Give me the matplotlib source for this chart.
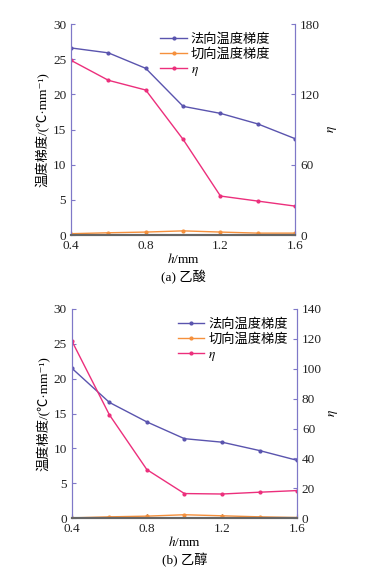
# -*- coding: utf-8 -*-
import matplotlib
matplotlib.use("Agg")
import matplotlib.pyplot as plt

plt.rcParams['font.family'] = ['Liberation Serif', 'Noto Sans CJK SC', 'DejaVu Sans']
plt.rcParams['mathtext.fontset'] = 'stix'
plt.rcParams['font.size'] = 9.5

h = [0.4, 0.6, 0.8, 1.0, 1.2, 1.4, 1.6]

# (a) acetic acid
normal_a = [26.6, 25.9, 23.7, 18.3, 17.3, 15.8, 13.7]
tangent_a = [0.2, 0.33, 0.43, 0.6, 0.43, 0.28, 0.28]
eta_a = [149, 132, 123.7, 81.6, 33.3, 29, 24.7]

# (b) ethanol
normal_b = [21.5, 16.6, 13.8, 11.4, 10.9, 9.7, 8.3]
tangent_b = [0.05, 0.2, 0.3, 0.5, 0.35, 0.2, 0.1]
eta_b = [118.6, 69.2, 32.5, 16.5, 16.2, 17.4, 18.5]

labels = ['法向温度梯度', '切向温度梯度', r'$\eta$']
c_normal = '#5a54ae'
c_tan = '#f5903c'
c_eta = '#ec2f7c'
spine_c = '#7f78c8'

fig = plt.figure(figsize=(3.76, 5.72), dpi=100)


def panel(rect, normal, tangent, eta, eta_max, eta_step, caption, leg_x):
    ax = fig.add_axes(rect)
    ax2 = ax.twinx()
    l1, = ax.plot(h, normal, color=c_normal, marker='o', ms=2, lw=1)
    l2, = ax.plot(h, tangent, color=c_tan, marker='o', ms=2, lw=1)
    l3, = ax2.plot(h, eta, color=c_eta, marker='o', ms=2, lw=1)
    ax.set_xlim(0.4, 1.6)
    ax.set_ylim(0, 30)
    ax2.set_ylim(0, eta_max)
    ax.set_xticks([0.4, 0.8, 1.2, 1.6])
    ax.set_xticks([0.6, 1.0, 1.4], minor=True)
    ax.set_yticks(range(0, 31, 5))
    ax2.set_yticks(range(0, eta_max + 1, eta_step))
    for a in (ax, ax2):
        a.spines['top'].set_visible(False)
        a.spines['left'].set_color(spine_c)
        a.spines['right'].set_color(spine_c)
        a.spines['bottom'].set_color('#666666')
        a.spines['bottom'].set_linewidth(1.5)
        a.tick_params(direction='in', length=3, colors='#222222', labelsize=9.5)
        a.tick_params(which='minor', direction='in', length=0)
    ax.tick_params(axis='y', color=spine_c)
    ax2.tick_params(axis='y', color=spine_c)
    ax.set_ylabel('温度梯度/(℃·mm⁻¹)', labelpad=2)
    ax2.set_ylabel(r'$\eta$', labelpad=4)
    ax.set_xlabel('$h$/mm', labelpad=0)
    ax.text(0.5, -0.2, caption, transform=ax.transAxes, ha='center', va='center')
    ax.legend([l1, l2, l3], labels, loc='upper right', frameon=False,
              bbox_to_anchor=(leg_x, 1.0),
              handlelength=2.0, handletextpad=0.3, labelspacing=0.2,
              borderaxespad=0.3, fontsize=9.5)
    return ax


panel([0.189, 0.589, 0.596, 0.369], normal_a, tangent_a, eta_a, 180, 60, '(a) 乙酸', 0.93)
panel([0.191, 0.094, 0.599, 0.366], normal_b, tangent_b, eta_b, 140, 20, '(b) 乙醇', 1.0)

fig.savefig('out.png', dpi=100)
